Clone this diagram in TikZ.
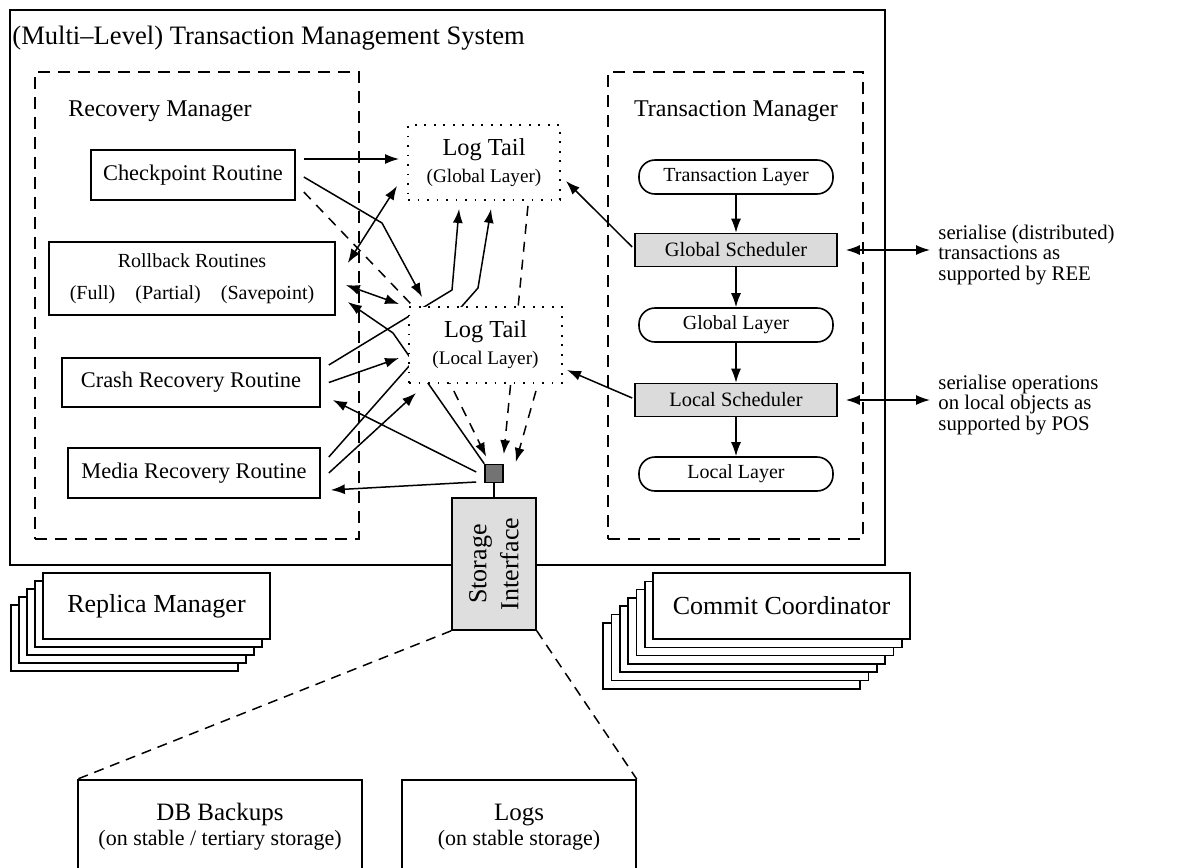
\documentclass[tikz,border=0pt]{standalone}
\usepackage{fontspec}
\setmainfont{Liberation Serif}
\usetikzlibrary{arrows.meta,calc}
\pgfdeclarelayer{behind}
\pgfsetlayers{behind,main}
\begin{document}
\begin{tikzpicture}[x=0.5pt,y=-0.5pt,
  box/.style={draw, line width=0.8pt, fill=white, inner sep=0pt, font=\fontsize{11.2}{13}\selectfont},
  frame/.style={draw, line width=0.85pt, inner sep=0pt},
  group/.style={draw, line width=0.8pt, dash pattern=on 6pt off 4pt, inner sep=0pt},
  tailbox/.style={draw, line width=0.95pt, dash pattern=on 0.95pt off 3.8pt, fill=white, align=center, inner sep=0pt, font=\fontsize{12.2}{13.5}\selectfont},
  pill/.style={draw, line width=0.8pt, rounded corners=8pt, fill=white, minimum width=97pt, minimum height=17pt, inner sep=0pt, font=\fontsize{10}{12}\selectfont},
  sched/.style={draw, line width=0.8pt, fill=black!14, minimum width=101pt, minimum height=16.5pt, inner sep=0pt, font=\fontsize{10.2}{12}\selectfont},
  note/.style={anchor=west, align=left, inner sep=0pt, font=\fontsize{10.4}{10.25}\selectfont},
  stk/.style={draw, line width=0.8pt, fill=white, inner sep=0pt, font=\fontsize{13}{15}\selectfont},
  conn/.style={line width=0.75pt},
  tip/.tip={Latex[length=7pt,width=5pt]},
  arr/.style={conn, -tip},
  dbl/.style={conn, tip-tip},
  darr/.style={conn, -tip, dash pattern=on 5pt off 4pt},
  sdash/.style={line width=0.75pt, dash pattern=on 5pt off 3.5pt}
]
\useasboundingbox (0,0) rectangle (1181,867);

% outer system frame and its title
\node[frame, minimum width=437.5pt, minimum height=277.5pt] (tms) at (447.5,287.5) {};
\node[anchor=west, inner sep=0pt, font=\fontsize{13.3}{16}\selectfont] (title) at (12,38) {(Multi–Level) Transaction Management System};

% the two managers
\node[group, minimum width=162pt, minimum height=233.5pt] (rm) at (197,305.5) {};
\node[font=\fontsize{12}{14}\selectfont] (rmt) at (160,111) {Recovery Manager};
\node[group, minimum width=127.5pt, minimum height=233.5pt] (tm) at (735.5,305.5) {};
\node[font=\fontsize{12}{14}\selectfont] (tmt) at (736,111) {Transaction Manager};

% recovery routines
\node[box, minimum width=102pt, minimum height=25pt] (ckpt) at (193,175) {Checkpoint Routine};
\node[box, minimum width=143pt, minimum height=36.5pt, align=center, font=\fontsize{10}{16}\selectfont] (rb) at (192,278.5) {Rollback Routines\\(Full)\quad(Partial)\quad(Savepoint)};
\node[box, minimum width=129pt, minimum height=24.5pt] (crash) at (191,382.5) {Crash Recovery Routine};
\node[box, minimum width=126pt, minimum height=25pt] (media) at (194,473) {Media Recovery Routine};

% log tails
\node[tailbox, minimum width=76pt, minimum height=37.5pt] (ltg) at (484,162.5) {Log Tail\\{\fontsize{9.6}{13.5}\selectfont (Global Layer)}};
\node[tailbox, minimum width=76.5pt, minimum height=38pt] (ltl) at (485.5,345) {Log Tail\\{\fontsize{9.6}{13.5}\selectfont (Local Layer)}};

% storage access point and interface
\node[draw, line width=0.8pt, fill=black!55, minimum size=9pt, inner sep=0pt] (sq) at (494,473.5) {};
\node[draw, line width=0.8pt, fill=black!13, minimum width=42pt, minimum height=66pt, inner sep=0pt] (si) at (494,564) {};
\node[rotate=90, align=center, inner sep=0pt, font=\fontsize{13}{16}\selectfont] (sit) at (si.center) {Storage\\Interface};
\draw[conn] (sq.south) -- (si.north);

% transaction manager layers
\node[pill] (tl) at (736,177) {Transaction Layer};
\node[sched] (gs) at (736,250) {Global Scheduler};
\node[pill] (gl) at (736,325) {Global Layer};
\node[sched] (ls) at (736,400) {Local Scheduler};
\node[pill] (ll) at (736,474) {Local Layer};
\draw[arr] (tl) -- (gs);
\draw[arr] (gs) -- (gl);
\draw[arr] (gl) -- (ls);
\draw[arr] (ls) -- (ll);

% scheduler notes
\node[note] (n1) at (938,255) {serialise (distributed)\\transactions as\\supported by REE};
\node[note] (n2) at (938,405) {serialise operations\\on local objects as\\supported by POS};
\draw[dbl] ($(gs.east)+(8,0)$) -- ($(n1.west |- gs.east)+(-8,0)$);
\draw[dbl] ($(ls.east)+(8,0)$) -- ($(n2.west |- ls.east)+(-8,0)$);

% schedulers to log tails
\draw[arr] ($(gs.west)+(-2,-3)$) -- ($(ltg.east)+(5,18.5)$);
\draw[arr] ($(ls.west)+(-2,-2)$) -- ($(ltl.east)+(4,25)$);

% routines and log tails
\draw[arr] ($(ckpt.east)+(8,-16)$) -- ($(ltg.west)+(-8,-3.5)$);
\coordinate (b1) at (382,223);
\draw[arr] ($(ckpt.east)+(8,2)$) -- (b1) -- ($(ltl.north west)+(14,-9)$);
\draw[dbl] ($(rb.east)+(12,-15.5)$) -- ($(ltg.south west)+(-10,-15)$);
\draw[dbl] ($(rb.east)+(10,6.5)$) -- ($(ltl.north west)+(-9,-2)$);
\draw[arr] ($(crash.east)+(8,0)$) -- ($(ltl.west)+(-9,13)$);
\draw[arr] ($(media.east)+(8,0)$) -- ($(ltl.south west)+(8,9)$);
\draw[arr] ($(sq.west)+(-8,-1.5)$) -- ($(crash.east)+(12,17.5)$);
\draw[arr] ($(sq.west)+(-8,8.5)$) -- ($(media.east)+(10,17)$);
\draw[darr] ($(ltl.south east)+(-27,7)$) -- ($(sq.east)+(12,-11.5)$);

% connectors running underneath the local log tail
\coordinate (b2) at (393,333);
\coordinate (b3) at (452,290);
\coordinate (b4) at (478,288);
\begin{pgfonlayer}{behind}
\draw[darr] ($(ckpt.east)+(8,17)$) -- ($(ltl.north west)+(3,-2)$) -- ($(sq.north west)+(2,-7)$);
\draw[arr] (sq.north west) -- (b2) -- ($(rb.east)+(12,23.5)$);
\draw[arr] ($(crash.east)+(8,-17.5)$) -- (b3) -- ($(ltg.south west)+(52,8)$);
\draw[arr] ($(media.east)+(8,-16)$) -- (b4) -- ($(ltg.south west)+(84,8)$);
\draw[darr] ($(ltg.south east)+(-33,5)$) -- ($(sq.north east)+(0,-9.5)$);
\end{pgfonlayer}

% replica manager stack
\foreach \k in {4,3,2,1}
  \node[stk, minimum width=113.5pt, minimum height=33pt] (rep\k) at ($(156.5,606)+(-8*\k,8*\k)$) {};
\node[stk, minimum width=113.5pt, minimum height=33pt] (rep) at (156.5,606) {Replica Manager};

% commit coordinator stack
\foreach \k in {6,5,4,3,2,1}
  \node[stk, minimum width=128.5pt, minimum height=33pt] (cc\k) at ($(781.5,606)+(-8.3*\k,8.3*\k)$) {};
\node[stk, minimum width=128.5pt, minimum height=33pt] (cc) at (781.5,606) {Commit Coordinator};

% stable storage
\node[box, minimum width=142pt, minimum height=47pt, align=center, font=\fontsize{12.5}{12.5}\selectfont] (db) at (220,827) {DB Backups\\{\fontsize{11}{12.5}\selectfont (on stable / tertiary storage)}};
\node[box, minimum width=117pt, minimum height=47pt, align=center, font=\fontsize{12.5}{12.5}\selectfont] (logs) at (519,827) {Logs\\{\fontsize{11}{12.5}\selectfont (on stable storage)}};
\draw[sdash] (si.south west) -- (db.north west);
\draw[sdash] (si.south east) -- (logs.north east);
\end{tikzpicture}
\end{document}
